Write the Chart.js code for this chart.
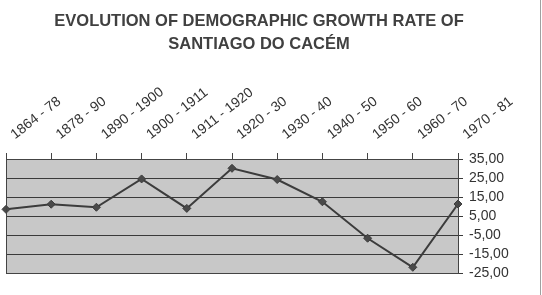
<!DOCTYPE html>
<html>
<head>
<meta charset="utf-8">
<script src="https://cdn.jsdelivr.net/npm/chart.js@4"></script>
<style>
  html, body { margin: 0; padding: 0; background: #ffffff; }
  #wrap { width: 542px; height: 295px; position: relative; }
</style>
</head>
<body>
<div id="wrap"><canvas id="c" width="542" height="295"></canvas></div>
<script>
const titleLines = ["EVOLUTION OF DEMOGRAPHIC GROWTH RATE OF", "SANTIAGO DO CACÉM"];
const periods = ["1864 - 78", "1878 - 90", "1890 - 1900", "1900 - 1911", "1911 - 1920", "1920 - 30", "1930 - 40", "1940 - 50", "1950 - 60", "1960 - 70", "1970 - 81"];
const growthRate = [8.5, 11.2, 9.6, 24.5, 9.0, 30.1, 24.2, 12.5, -6.7, -22.0, 11.3];
const yMin = -25, yMax = 35, yStep = 10;

const plotBg = {
  id: 'plotBg',
  beforeDraw(chart) {
    const { ctx, chartArea: a } = chart;
    ctx.save();
    ctx.fillStyle = '#c8c8c8';
    ctx.fillRect(a.left, a.top, a.right - a.left, a.bottom - a.top);
    ctx.restore();
  },
  afterDraw(chart) {
    const { ctx, chartArea: a } = chart;
    ctx.save();
    ctx.strokeStyle = '#444444';
    ctx.lineWidth = 1;
    ctx.strokeRect(Math.round(a.left) + 0.5, Math.round(a.top) + 0.5, Math.round(a.right - a.left), Math.round(a.bottom - a.top));
    ctx.strokeStyle = '#a0a0a0';
    ctx.beginPath();
    ctx.moveTo(540.5, 0);
    ctx.lineTo(540.5, 295);
    ctx.stroke();
    ctx.restore();
  }
};

new Chart(document.getElementById('c'), {
  type: 'line',
  data: {
    labels: periods,
    datasets: [{
      data: growthRate,
      borderColor: '#3c3c3c',
      borderWidth: 2,
      pointStyle: 'rectRot',
      pointRadius: 4,
      pointBackgroundColor: '#4a4a4a',
      pointBorderColor: '#3c3c3c',
      pointBorderWidth: 1,
      tension: 0,
      clip: false
    }]
  },
  options: {
    responsive: false,
    animation: false,
    layout: { padding: { left: 6, right: 30, top: 0, bottom: 22 } },
    plugins: {
      legend: { display: false },
      tooltip: { enabled: false },
      title: {
        display: true,
        text: titleLines,
        color: '#404040',
        font: { family: '"Liberation Sans", Arial, sans-serif', size: 16.5, weight: 'bold', lineHeight: 1.38 },
        padding: { top: 10, bottom: 0 }
      }
    },
    scales: {
      x: {
        position: 'top',
        offset: false,
        grid: { drawOnChartArea: false, drawTicks: true, tickLength: 6, color: '#444444' },
        border: { display: true, color: '#444444' },
        ticks: {
          color: '#333333',
          font: { family: '"Liberation Sans", Arial, sans-serif', size: 14 },
          minRotation: 38, maxRotation: 38,
          autoSkip: false,
          padding: 10,
          labelOffset: 17
        },
        afterFit(scale) {
          const tb = scale.chart.titleBlock;
          const th = (tb && tb.height) ? tb.height : 55.5;
          scale.height = 159 - th;
          scale.paddingLeft = 0;
          scale.paddingRight = 0;
        }
      },
      y: {
        position: 'right',
        min: yMin, max: yMax,
        grid: { drawOnChartArea: true, color: '#3a3a3a', tickLength: 5 },
        border: { display: true, color: '#444444' },
        ticks: {
          stepSize: yStep,
          autoSkip: false,
          color: '#333333',
          font: { family: '"Liberation Sans", Arial, sans-serif', size: 14 },
          padding: 6,
          callback: (v) => v.toFixed(2).replace('.', ',')
        },
        afterFit(scale) {
          scale.width = 54;
          scale.paddingTop = 0;
          scale.paddingBottom = 0;
        }
      }
    }
  },
  plugins: [plotBg]
});
</script>
</body>
</html>
